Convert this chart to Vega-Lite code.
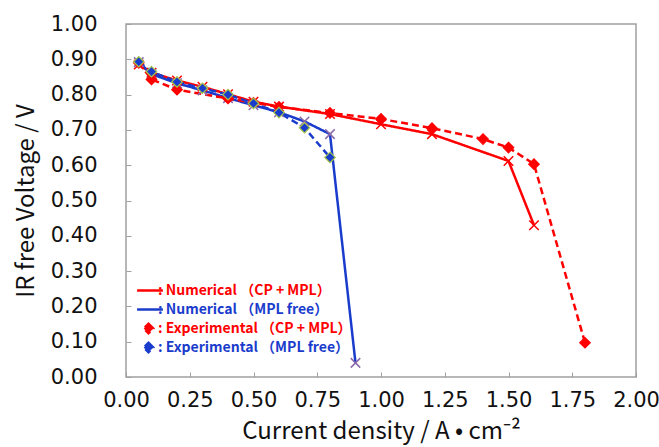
{
  "$schema": "https://vega.github.io/schema/vega-lite/v6.json",
  "width": 510,
  "height": 353,
  "autosize": "none",
  "padding": {"left": 126, "top": 24, "right": 23, "bottom": 70},
  "background": "white",
  "config": {
    "view": {"stroke": "#a0a0a0", "strokeWidth": 1.5},
    "axis": {
      "grid": false,
      "domain": false,
      "tickColor": "#a0a0a0",
      "tickSize": -5,
      "tickWidth": 1,
      "labelFont": "DejaVu Sans",
      "labelFontSize": 21,
      "labelColor": "#111111",
      "labelFlush": false,
      "labelOverlap": false,
      "titleFont": "Noto Sans CJK JP",
      "titleFontSize": 24,
      "titleFontWeight": "normal",
      "titleColor": "#111111"
    }
  },
  "data": {
    "values": [
      {"series": "Numerical （CP + MPL）", "kind": "num", "j": 0.05, "v": 0.885},
      {"series": "Numerical （CP + MPL）", "kind": "num", "j": 0.1, "v": 0.862},
      {"series": "Numerical （CP + MPL）", "kind": "num", "j": 0.2, "v": 0.840},
      {"series": "Numerical （CP + MPL）", "kind": "num", "j": 0.3, "v": 0.822},
      {"series": "Numerical （CP + MPL）", "kind": "num", "j": 0.4, "v": 0.801},
      {"series": "Numerical （CP + MPL）", "kind": "num", "j": 0.5, "v": 0.780},
      {"series": "Numerical （CP + MPL）", "kind": "num", "j": 0.6, "v": 0.766},
      {"series": "Numerical （CP + MPL）", "kind": "num", "j": 0.8, "v": 0.745},
      {"series": "Numerical （CP + MPL）", "kind": "num", "j": 1.0, "v": 0.716},
      {"series": "Numerical （CP + MPL）", "kind": "num", "j": 1.2, "v": 0.688},
      {"series": "Numerical （CP + MPL）", "kind": "num", "j": 1.5, "v": 0.612},
      {"series": "Numerical （CP + MPL）", "kind": "num", "j": 1.6, "v": 0.430},
      {"series": "Numerical （MPL free）", "kind": "num", "j": 0.05, "v": 0.892},
      {"series": "Numerical （MPL free）", "kind": "num", "j": 0.1, "v": 0.858},
      {"series": "Numerical （MPL free）", "kind": "num", "j": 0.2, "v": 0.832},
      {"series": "Numerical （MPL free）", "kind": "num", "j": 0.3, "v": 0.812},
      {"series": "Numerical （MPL free）", "kind": "num", "j": 0.4, "v": 0.790},
      {"series": "Numerical （MPL free）", "kind": "num", "j": 0.5, "v": 0.770},
      {"series": "Numerical （MPL free）", "kind": "num", "j": 0.6, "v": 0.750},
      {"series": "Numerical （MPL free）", "kind": "num", "j": 0.7, "v": 0.724},
      {"series": "Numerical （MPL free）", "kind": "num", "j": 0.8, "v": 0.688},
      {"series": "Numerical （MPL free）", "kind": "num", "j": 0.9, "v": 0.040},
      {"series": "Experimental （CP + MPL）", "kind": "exp", "j": 0.05, "v": 0.890},
      {"series": "Experimental （CP + MPL）", "kind": "exp", "j": 0.1, "v": 0.843},
      {"series": "Experimental （CP + MPL）", "kind": "exp", "j": 0.2, "v": 0.814},
      {"series": "Experimental （CP + MPL）", "kind": "exp", "j": 0.4, "v": 0.789},
      {"series": "Experimental （CP + MPL）", "kind": "exp", "j": 0.5, "v": 0.777},
      {"series": "Experimental （CP + MPL）", "kind": "exp", "j": 0.6, "v": 0.765},
      {"series": "Experimental （CP + MPL）", "kind": "exp", "j": 0.8, "v": 0.748},
      {"series": "Experimental （CP + MPL）", "kind": "exp", "j": 1.0, "v": 0.731},
      {"series": "Experimental （CP + MPL）", "kind": "exp", "j": 1.2, "v": 0.705},
      {"series": "Experimental （CP + MPL）", "kind": "exp", "j": 1.4, "v": 0.674},
      {"series": "Experimental （CP + MPL）", "kind": "exp", "j": 1.5, "v": 0.650},
      {"series": "Experimental （CP + MPL）", "kind": "exp", "j": 1.6, "v": 0.603},
      {"series": "Experimental （CP + MPL）", "kind": "exp", "j": 1.8, "v": 0.097},
      {"series": "Experimental （MPL free）", "kind": "exp", "j": 0.05, "v": 0.893},
      {"series": "Experimental （MPL free）", "kind": "exp", "j": 0.1, "v": 0.865},
      {"series": "Experimental （MPL free）", "kind": "exp", "j": 0.2, "v": 0.836},
      {"series": "Experimental （MPL free）", "kind": "exp", "j": 0.3, "v": 0.818},
      {"series": "Experimental （MPL free）", "kind": "exp", "j": 0.4, "v": 0.800},
      {"series": "Experimental （MPL free）", "kind": "exp", "j": 0.5, "v": 0.775},
      {"series": "Experimental （MPL free）", "kind": "exp", "j": 0.6, "v": 0.749},
      {"series": "Experimental （MPL free）", "kind": "exp", "j": 0.7, "v": 0.706},
      {"series": "Experimental （MPL free）", "kind": "exp", "j": 0.8, "v": 0.622}
    ]
  },
  "encoding": {
    "x": {
      "field": "j",
      "type": "quantitative",
      "scale": {"domain": [0, 2], "nice": false, "zero": false},
      "axis": {
        "title": "Current density / A • cm⁻²",
        "values": [0, 0.25, 0.5, 0.75, 1, 1.25, 1.5, 1.75, 2],
        "format": ".2f",
        "labelPadding": 17,
        "titlePadding": 9
      }
    },
    "y": {
      "field": "v",
      "type": "quantitative",
      "scale": {"domain": [0, 1], "nice": false, "zero": false},
      "axis": {
        "title": "IR free Voltage / V",
        "values": [0, 0.1, 0.2, 0.3, 0.4, 0.5, 0.6, 0.7, 0.8, 0.9, 1],
        "format": ".2f",
        "labelPadding": 34,
        "titlePadding": 12
      }
    }
  },
  "layer": [
    {
      "mark": {"type": "line", "strokeWidth": 2.5},
      "encoding": {
        "color": {
          "field": "series",
          "type": "nominal",
          "scale": {
            "domain": ["Numerical （CP + MPL）", "Numerical （MPL free）", "Experimental （CP + MPL）", "Experimental （MPL free）"],
            "range": ["#ff0000", "#1a3ccc", "#ff0000", "#1a3ccc"]
          },
          "legend": {
            "orient": "none",
            "legendX": 15,
            "legendY": 259,
            "title": null,
            "labelExpr": "(indexof(datum.value, 'Numerical') >= 0 ? '\u00a0\u00a0\u00a0\u00a0: ' : ': ') + datum.value",
            "labelFont": "Noto Sans CJK JP",
            "labelFontSize": 14,
            "labelFontWeight": "bold",
            "labelLimit": 0,
            "labelColor": {"expr": "indexof(datum.value, 'CP') >= 0 ? '#ff0000' : '#1a3ccc'"},
            "symbolType": {"expr": "indexof(datum.value, 'Numerical') >= 0 ? 'M-1.9,0L2.4,0' : 'M0,-0.8L0.8,0L0,0.8L-0.8,0Z'"},
            "symbolFillColor": {"expr": "indexof(datum.value, 'Numerical') >= 0 ? 'transparent' : (indexof(datum.value, 'CP') >= 0 ? '#ff0000' : '#1a3ccc')"},
            "symbolSize": 144,
            "symbolStrokeWidth": 2.5,
            "symbolDash": [1, 0],
            "gridAlign": "all",
            "rowPadding": -2,
            "labelOffset": 2
          }
        },
        "strokeDash": {
          "field": "series",
          "type": "nominal",
          "scale": {
            "domain": ["Numerical （CP + MPL）", "Numerical （MPL free）", "Experimental （CP + MPL）", "Experimental （MPL free）"],
            "range": [[1, 0], [1, 0], [7, 4], [7, 4]]
          },
          "legend": null
        }
      }
    },
    {
      "transform": [{"filter": "datum.kind == 'num'"}],
      "mark": {"type": "point", "shape": "M-1,-1L1,1M-1,1L1,-1", "size": 90, "strokeWidth": 1.5, "filled": false, "opacity": 1},
      "encoding": {
        "stroke": {
          "field": "series",
          "type": "nominal",
          "scale": {
            "domain": ["Numerical （CP + MPL）", "Numerical （MPL free）", "Experimental （CP + MPL）", "Experimental （MPL free）"],
            "range": ["#ff0000", "#8a6aaa", "#ff0000", "#a8c848"]
          },
          "legend": null
        }
      }
    },
    {
      "transform": [{"filter": "datum.kind == 'exp'"}],
      "mark": {"type": "point", "shape": "diamond", "size": 110, "strokeWidth": 1.2, "filled": true, "opacity": 1},
      "encoding": {
        "fill": {
          "field": "series",
          "type": "nominal",
          "scale": {
            "domain": ["Numerical （CP + MPL）", "Numerical （MPL free）", "Experimental （CP + MPL）", "Experimental （MPL free）"],
            "range": ["#ff0000", "#1a3ccc", "#ff0000", "#1a3ccc"]
          },
          "legend": null
        },
        "stroke": {
          "field": "series",
          "type": "nominal",
          "legend": null
        }
      }
    }
  ]
}
